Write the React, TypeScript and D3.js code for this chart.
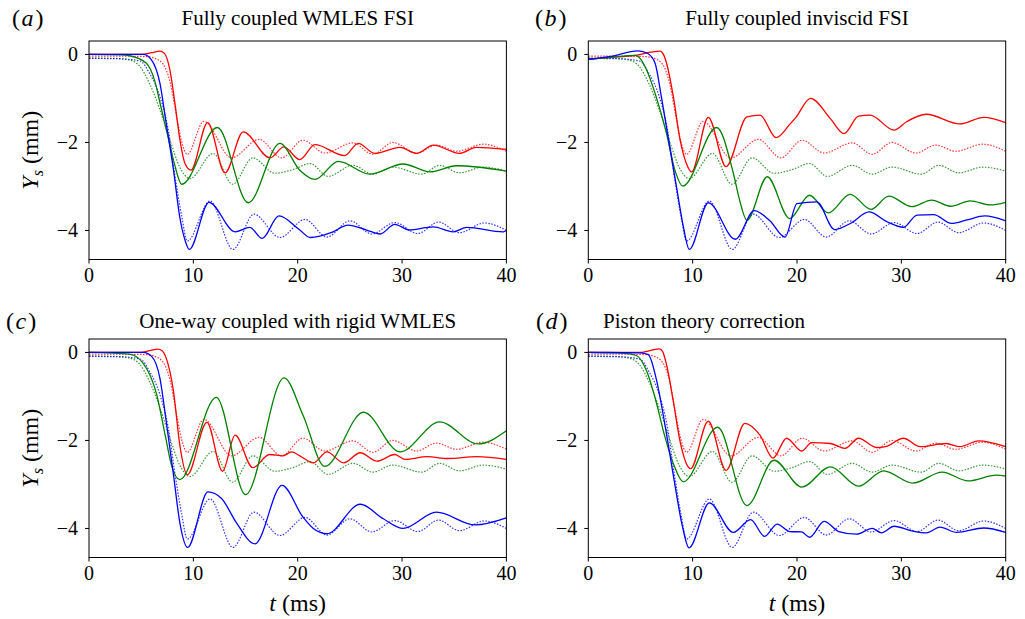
import React from "react";
import * as d3 from "d3";

type P = [number, number];

// Reference (dotted) series, shared by all panels: [t (ms), Ys (mm)]
const refRed: P[] = [[0,-0.04],[3,-0.04],[5.5,-0.05],[6.2,-0.08],[7.1,-0.22],[7.8,-0.66],[8.4,-1.42],[8.9,-2.0],[9.42,-2.27],[11.0,-1.52],[13.67,-2.35],[16.3,-1.93],[18.45,-2.35],[20.5,-1.95],[22.6,-2.24],[25.3,-2.01],[27.2,-2.27],[29.1,-2.0],[31.4,-2.24],[33.3,-2.06],[35.2,-2.2],[37.8,-2.04],[40,-2.2]];
const refGreen: P[] = [[0,-0.08],[2.5,-0.09],[3.9,-0.13],[4.9,-0.28],[5.8,-0.66],[6.8,-1.26],[7.76,-1.95],[8.7,-2.56],[9.67,-2.82],[11.9,-2.25],[13.76,-2.95],[15.7,-2.35],[17.8,-2.7],[19.5,-2.62],[21.2,-2.48],[22.9,-2.77],[25.3,-2.52],[27.2,-2.72],[29.1,-2.56],[31.9,-2.72],[33.6,-2.52],[35.5,-2.69],[37.8,-2.56],[40,-2.65]];
const refBlue: P[] = [[0,-0.09],[3,-0.1],[4.9,-0.15],[5.8,-0.43],[6.8,-0.96],[7.6,-1.72],[8.2,-2.7],[8.9,-3.7],[9.42,-4.24],[11.6,-3.33],[13.8,-4.43],[15.8,-3.63],[18.3,-4.16],[20.7,-3.75],[22.8,-4.15],[25.0,-3.78],[27.1,-4.08],[29.3,-3.82],[31.5,-4.07],[33.5,-3.81],[35.5,-4.05],[37.9,-3.83],[40,-4.0]];

// (a) Fully coupled WMLES FSI
const aRed: P[] = [[0,0],[5,0],[6.0,0.04],[6.8,0.075],[7.2,0.03],[7.76,-0.36],[8.24,-1.12],[8.72,-1.95],[9.2,-2.48],[9.77,-2.63],[11.37,-1.55],[13.03,-2.69],[14.78,-1.76],[17.34,-2.35],[18.68,-2.1],[20.2,-2.39],[21.65,-2.05],[24.5,-2.3],[25.8,-2.02],[27.4,-2.25],[29.8,-2.11],[31.4,-2.25],[33.0,-2.06],[35.5,-2.25],[37.1,-2.11],[40,-2.16]];
const aGreen: P[] = [[0,0],[3,-0.01],[3.9,-0.03],[5.5,-0.2],[6.3,-0.6],[6.9,-1.2],[7.6,-1.9],[8.2,-2.5],[8.88,-2.95],[12.3,-1.66],[15.26,-3.37],[18.3,-2.02],[20.2,-2.63],[21.65,-2.84],[23.9,-2.43],[26.9,-2.72],[30.1,-2.49],[32.7,-2.67],[35.2,-2.53],[40,-2.65]];
const aBlue: P[] = [[0,0],[5.2,0],[6.0,-0.13],[6.8,-0.66],[7.4,-1.57],[8.1,-2.63],[8.7,-3.7],[9.2,-4.22],[9.61,-4.43],[11.5,-3.36],[14.0,-4.03],[15.4,-3.93],[16.6,-4.18],[18.2,-3.67],[20.2,-3.99],[21.2,-4.16],[23.4,-4.03],[24.8,-3.88],[26.6,-3.99],[27.9,-4.08],[29.3,-3.86],[30.7,-3.99],[33.0,-3.92],[34.9,-4.03],[36.2,-3.93],[39.7,-4.03],[40,-4.0]];

// (b) Fully coupled inviscid FSI
const bRed: P[] = [[0,-0.11],[2,-0.07],[4.5,-0.02],[6.0,0.05],[6.87,0.075],[7.2,0.0],[7.5,-0.2],[8.15,-0.96],[8.8,-1.95],[9.4,-2.48],[9.9,-2.67],[11.5,-1.43],[13.2,-2.55],[15.2,-1.42],[16.45,-1.38],[18.0,-1.89],[19.3,-1.59],[19.9,-1.43],[21.3,-1.0],[23.2,-1.46],[24.5,-1.8],[25.9,-1.4],[27.0,-1.38],[29.3,-1.72],[30.5,-1.53],[32.4,-1.36],[35.6,-1.58],[37.9,-1.43],[40,-1.55]];
const bGreen: P[] = [[0,-0.11],[2,-0.07],[4.5,-0.02],[5.0,-0.1],[5.6,-0.36],[6.5,-0.96],[7.5,-1.8],[8.3,-2.63],[9.05,-2.99],[12.3,-1.66],[13.9,-2.7],[14.5,-3.31],[15.2,-3.77],[17.15,-2.78],[19.3,-3.73],[21.2,-3.2],[23.0,-3.6],[25.1,-3.18],[27.1,-3.52],[28.8,-3.22],[31.0,-3.46],[32.9,-3.31],[34.7,-3.45],[36.6,-3.33],[38.5,-3.42],[40,-3.36]];
const bBlue: P[] = [[0,-0.11],[2,-0.05],[4.8,0.08],[5.7,0.02],[6.4,-0.2],[7.0,-0.96],[7.8,-2.1],[8.5,-3.08],[9.1,-3.9],[9.68,-4.43],[11.5,-3.37],[14.1,-4.2],[15.9,-3.55],[17.4,-3.78],[18.85,-4.15],[20.0,-3.39],[21.9,-3.35],[23.6,-3.98],[25.2,-3.83],[26.9,-3.58],[28.6,-3.8],[30.2,-3.93],[31.5,-3.65],[33.1,-3.64],[34.8,-3.84],[36.3,-3.76],[38.0,-3.67],[40,-3.78]];

// (c) One-way coupled with rigid WMLES
const cRed: P[] = [[0,0],[5,0],[6.6,0.077],[7.0,0.04],[7.4,-0.13],[8.1,-0.89],[8.7,-2.1],[9.42,-2.78],[11.3,-1.59],[12.8,-2.7],[14.0,-1.88],[15.7,-2.62],[17.3,-2.32],[18.6,-2.35],[19.4,-2.26],[20.2,-2.35],[21.5,-2.51],[22.8,-2.26],[24.4,-2.51],[26.0,-2.28],[27.6,-2.47],[29.3,-2.32],[30.3,-2.43],[32.4,-2.37],[34.3,-2.41],[37.2,-2.37],[40,-2.43]];
const cGreen: P[] = [[0,0],[3.9,-0.04],[5.5,-0.36],[6.5,-0.97],[7.3,-1.88],[7.9,-2.56],[8.7,-2.89],[12.2,-1.02],[15.0,-3.23],[18.7,-0.58],[20.5,-1.42],[22.6,-2.59],[26.3,-1.36],[29.8,-2.26],[33.6,-1.58],[37.3,-2.08],[40,-1.78]];
const cBlue: P[] = [[0,0],[5.2,0],[6.0,-0.09],[6.8,-0.59],[7.4,-1.57],[8.1,-2.79],[8.7,-3.86],[9.45,-4.43],[11.4,-3.17],[12.7,-3.32],[14.1,-3.86],[15.9,-4.35],[18.5,-3.02],[20.5,-3.74],[21.5,-4.0],[22.8,-4.12],[26.0,-3.45],[28.2,-3.78],[30.1,-4.0],[33.3,-3.63],[37.0,-3.92],[40,-3.76]];

// (d) Piston theory correction
const dRed: P[] = [[0,0],[5,0],[6.8,0.08],[7.1,0.03],[7.5,-0.28],[8.15,-1.12],[8.8,-2.03],[9.8,-2.64],[11.5,-1.56],[13.2,-2.68],[15.0,-1.61],[16.45,-1.88],[17.7,-2.4],[19.0,-1.95],[20.45,-2.24],[21.4,-2.05],[23.2,-2.07],[24.6,-2.18],[25.9,-1.95],[27.6,-2.16],[28.5,-2.14],[30.2,-1.95],[31.8,-2.14],[34.3,-2.07],[35.6,-2.14],[37.4,-2.01],[40,-2.14]];
const dGreen: P[] = [[0,0],[3.5,-0.02],[4.6,-0.07],[5.6,-0.43],[6.5,-1.12],[7.3,-1.88],[8.2,-2.56],[9.1,-2.94],[12.4,-1.7],[15.2,-3.48],[17.8,-2.45],[20.45,-3.06],[23.2,-2.6],[25.9,-3.04],[28.3,-2.69],[31.1,-2.97],[33.9,-2.72],[36.4,-2.92],[39.1,-2.79],[40,-2.81]];
const dBlue: P[] = [[0,0],[5,-0.01],[5.75,-0.05],[6.5,-0.59],[7.35,-1.65],[8.2,-2.87],[9.0,-3.93],[9.65,-4.44],[11.6,-3.42],[13.9,-4.09],[15.55,-3.8],[16.9,-4.18],[18.1,-3.9],[19.3,-4.07],[20.45,-4.08],[21.2,-4.2],[22.6,-3.84],[24.0,-4.07],[25.7,-4.13],[27.2,-4.0],[28.1,-4.1],[29.3,-3.95],[31.1,-4.06],[32.4,-4.1],[33.7,-3.97],[35.3,-4.09],[37.9,-3.99],[40,-4.09]];

const xTicks = [0, 10, 20, 30, 40];
const yTicks = [0, -2, -4];
const panelLetters = ["a", "b", "c", "d"];
const panelTitles = [
  "Fully coupled WMLES FSI",
  "Fully coupled inviscid FSI",
  "One-way coupled with rigid WMLES",
  "Piston theory correction",
];
const solidSets: P[][][] = [
  [aRed, aGreen, aBlue],
  [bRed, bGreen, bBlue],
  [cRed, cGreen, cBlue],
  [dRed, dGreen, dBlue],
];
const refSet: P[][] = [refRed, refGreen, refBlue];
const colors = ["#ff0000", "#008000", "#0000ff"];

const FONT = "'Liberation Serif', 'Times New Roman', serif";

const W = 1025;
const H = 619;
const colX = [89, 588.3];
const rowY = [41, 339];
const PW = 417.4;
const PH = 218.5;
const labelX = [[12, 535], [6, 536]];

function Panel({ idx }: { idx: number }) {
  const col = idx % 2;
  const row = Math.floor(idx / 2);
  const x0 = colX[col];
  const y0 = rowY[row];
  const x = d3.scaleLinear().domain([0, 40]).range([x0, x0 + PW]);
  const y = d3.scaleLinear().domain([-4.66, 0.305]).range([y0 + PH, y0]);
  const line = d3
    .line<P>()
    .x((d) => x(d[0]))
    .y((d) => y(d[1]))
    .curve(d3.curveMonotoneX);
  const baseY = row === 0 ? 25 : 328;
  return (
    <g>
      <text x={labelX[row][col]} y={baseY + 1} fontFamily={FONT} fontSize={24}>
        (<tspan fontStyle="italic" dx={1.5}>{panelLetters[idx]}</tspan>
        <tspan dx={2}>)</tspan>
      </text>
      <text
        x={idx === 3 ? 704 : x0 + PW / 2}
        y={baseY}
        textAnchor="middle"
        fontFamily={FONT}
        fontSize={21}
      >
        {panelTitles[idx]}
      </text>
      {refSet.map((s, i) => (
        <path
          key={"r" + i}
          d={line(s) || ""}
          fill="none"
          stroke={colors[i]}
          strokeWidth={1.2}
          strokeDasharray="1.5,1.5"
          opacity={0.8}
        />
      ))}
      {solidSets[idx].map((s, i) => (
        <path key={"s" + i} d={line(s) || ""} fill="none" stroke={colors[i]} strokeWidth={1.3} />
      ))}
      <rect x={x0} y={y0} width={PW} height={PH} fill="none" stroke="#000" strokeWidth={1} />
      {xTicks.map((t) => (
        <g key={"x" + t}>
          <line x1={x(t)} x2={x(t)} y1={y0 + PH} y2={y0 + PH + 4} stroke="#000" />
          <text x={x(t)} y={y0 + PH + 22} textAnchor="middle" fontFamily={FONT} fontSize={20}>
            {t}
          </text>
        </g>
      ))}
      {yTicks.map((t) => (
        <g key={"y" + t}>
          <line x1={x0 - 4} x2={x0} y1={y(t)} y2={y(t)} stroke="#000" />
          <text x={x0 - 11} y={y(t) + 6.5} textAnchor="end" fontFamily={FONT} fontSize={20}>
            {t < 0 ? "\u2212" + Math.abs(t) : String(t)}
          </text>
        </g>
      ))}
      {col === 0 && (
        <text
          transform={`translate(38, ${y0 + PH / 2}) rotate(-90)`}
          textAnchor="middle"
          fontFamily={FONT}
          fontSize={24}
        >
          <tspan fontStyle="italic">Y</tspan>
          <tspan fontStyle="italic" fontSize={16} dy={5}>s</tspan>
          <tspan dy={-5}> (mm)</tspan>
        </text>
      )}
      {row === 1 && (
        <text x={x0 + PW / 2} y={611} textAnchor="middle" fontFamily={FONT} fontSize={24}>
          <tspan fontStyle="italic">t</tspan> (ms)
        </text>
      )}
    </g>
  );
}

export default function App() {
  return (
    <svg
      width={W}
      height={H}
      style={{ position: "absolute", left: 0, top: 0, background: "#fff" }}
    >
      <rect width={W} height={H} fill="#fff" />
      {[0, 1, 2, 3].map((i) => (
        <Panel key={i} idx={i} />
      ))}
    </svg>
  );
}
